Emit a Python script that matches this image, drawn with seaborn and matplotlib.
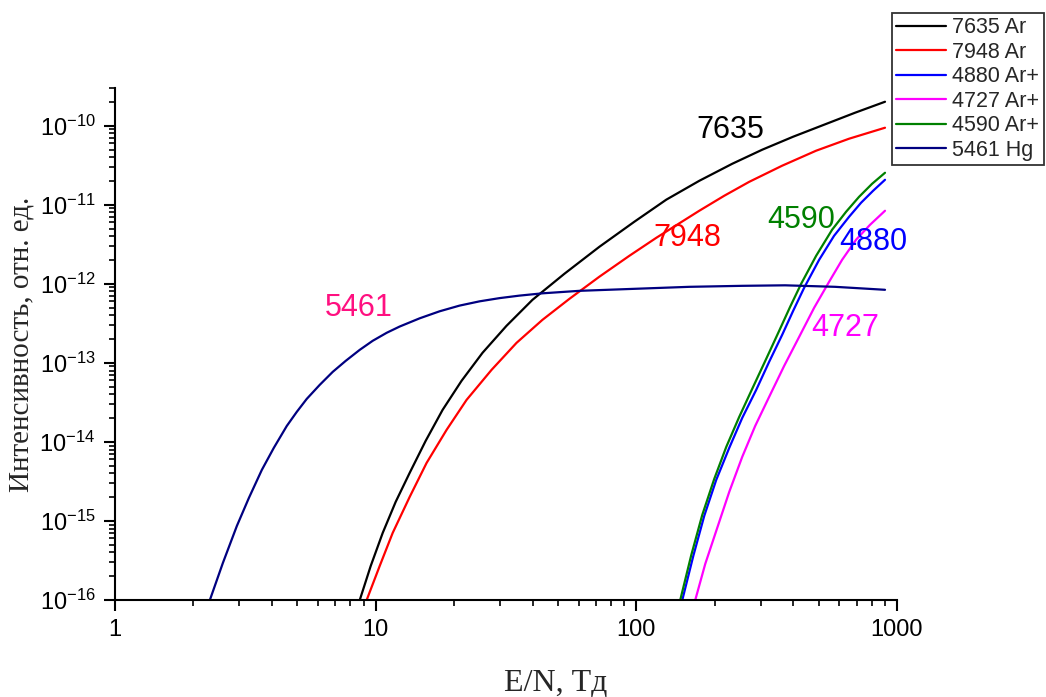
import numpy as np
import pandas as pd
import matplotlib
matplotlib.use("Agg")
import matplotlib.pyplot as plt
import seaborn as sns
from matplotlib.ticker import LogLocator, NullFormatter, FuncFormatter

# Emission intensity vs reduced field E/N (Td) for Ar, Ar+ and Hg lines
en_7635 = [8.69, 9.57, 10.64, 11.93, 13.50, 15.55, 18.06, 21.35, 25.70, 31.76, 39.95,
           52.98, 72.15, 98.2, 130.3, 174.4, 233.3, 304.0, 399.6, 525.3, 690.4, 899.5]
i_7635 = [1.0e-16, 2.69e-16, 7.05e-16, 1.74e-15, 4.05e-15, 1.03e-14, 2.54e-14, 5.92e-14,
          1.34e-13, 2.94e-13, 6.27e-13, 1.34e-12, 2.94e-12, 6.09e-12, 1.16e-11, 2.01e-11,
          3.30e-11, 4.97e-11, 7.26e-11, 1.03e-10, 1.46e-10, 2.01e-10]

en_7948 = [9.237, 10.36, 11.62, 13.50, 15.68, 18.71, 22.32, 27.83, 34.70, 43.63, 55.39,
           72.15, 94.0, 119.3, 174.4, 217.4, 271.0, 362.6, 489.5, 655.0, 899.5]
i_7948 = [1.0e-16, 2.69e-16, 7.05e-16, 2.01e-15, 5.42e-15, 1.42e-14, 3.40e-14, 8.15e-14,
          1.79e-13, 3.50e-13, 6.46e-13, 1.23e-12, 2.26e-12, 3.82e-12, 8.40e-12, 1.30e-11,
          1.95e-11, 3.12e-11, 4.83e-11, 6.85e-11, 9.43e-11]

en_4880 = [150.1, 165.4, 182.2, 202.5, 227.2, 254.8, 288.3, 323.2, 362.6, 399.6, 440.3,
           502.6, 573.6, 655.0, 727.9, 809.2, 899.5]
i_4880 = [1.0e-16, 3.61e-16, 1.16e-15, 3.30e-15, 8.40e-15, 2.01e-14, 4.55e-14, 1.03e-13,
          2.26e-13, 4.55e-13, 8.90e-13, 2.01e-12, 4.05e-12, 7.05e-12, 1.06e-11, 1.50e-11,
          2.07e-11]

en_4727 = [168.3, 183.8, 202.5, 227.2, 254.8, 285.7, 323.2, 369.1, 421.3, 480.9, 548.9,
           615.6, 696.5, 788.1, 899.5]
i_4727 = [1.0e-16, 2.86e-16, 7.47e-16, 2.33e-15, 6.46e-15, 1.59e-14, 3.71e-14, 9.16e-14,
          2.13e-13, 4.97e-13, 1.06e-12, 2.01e-12, 3.61e-12, 5.58e-12, 8.40e-12]

en_4590 = [147.4, 162.5, 179.0, 199.0, 221.3, 248.1, 278.3, 314.8, 353.1, 389.1, 428.8,
           489.5, 563.6, 637.7, 715.2, 802.1, 899.5]
i_4590 = [1.0e-16, 3.71e-16, 1.19e-15, 3.40e-15, 8.64e-15, 2.07e-14, 4.69e-14, 1.12e-13,
          2.54e-13, 5.12e-13, 1.0e-12, 2.26e-12, 4.83e-12, 8.15e-12, 1.26e-11, 1.84e-11,
          2.54e-11]

en_5461 = [2.312, 2.593, 2.934, 3.262, 3.658, 4.066, 4.560, 4.982, 5.440, 6.102, 6.843,
           7.675, 8.686, 9.739, 11.02, 12.36, 14.75, 17.59, 20.98, 25.03, 29.86, 35.62,
           43.63, 60.46, 99.1, 159.7, 254.8, 372.4, 578.7, 899.5]
i_5461 = [1.0e-16, 2.94e-16, 8.64e-16, 1.95e-15, 4.42e-15, 8.40e-15, 1.59e-14, 2.40e-14,
          3.50e-14, 5.27e-14, 7.69e-14, 1.06e-13, 1.46e-13, 1.90e-13, 2.40e-13, 2.88e-13,
          3.66e-13, 4.49e-13, 5.30e-13, 6.00e-13, 6.59e-13, 7.09e-13, 7.58e-13, 8.15e-13,
          8.65e-13, 9.16e-13, 9.43e-13, 9.57e-13, 9.16e-13, 8.40e-13]

series_names = ["7635 Ar", "7948 Ar", "4880 Ar+", "4727 Ar+", "4590 Ar+", "5461 Hg"]
series_en = [en_7635, en_7948, en_4880, en_4727, en_4590, en_5461]
series_i = [i_7635, i_7948, i_4880, i_4727, i_4590, i_5461]
line_colors = ["#000000", "#FF0000", "#0000FF", "#FF00FF", "#008000", "#000080"]

# Curve labels drawn next to the lines
label_text = ["7635", "7948", "4590", "4880", "4727", "5461"]
label_en = [229, 157, 429, 809, 632, 8.6]
label_i = [8.9e-11, 3.8e-12, 6.45e-12, 3.4e-12, 2.77e-13, 4.97e-13]
label_colors = ["#000000", "#FF0000", "#008000", "#0000FF", "#FF00FF", "#FF1080"]

frames = []
for name, xs, ys in zip(series_names, series_en, series_i):
    frames.append(pd.DataFrame({"E/N": xs, "I": ys, "line": name}))
df = pd.concat(frames, ignore_index=True)

sns.set_style("white")
plt.rcParams["font.family"] = ["Liberation Sans", "DejaVu Sans"]
plt.rcParams["mathtext.fontset"] = "custom"
plt.rcParams["mathtext.rm"] = "Liberation Sans"
plt.rcParams["axes.unicode_minus"] = False

fig = plt.figure(figsize=(10.46, 6.97), dpi=100)
ax = fig.add_axes([115 / 1046, 97 / 697, 782 / 1046, 512 / 697])

sns.lineplot(data=df, x="E/N", y="I", hue="line", hue_order=series_names,
             palette=dict(zip(series_names, line_colors)), sort=False,
             estimator=None, linewidth=1.6, ax=ax, legend=True)

ax.set_xscale("log")
ax.set_yscale("log")
ax.set_xlim(1, 1000)
ax.set_ylim(1e-16, 3e-10)

for side in ("top", "right"):
    ax.spines[side].set_visible(False)
for side in ("left", "bottom"):
    ax.spines[side].set_linewidth(1.5)
    ax.spines[side].set_color("black")

ax.xaxis.set_major_locator(LogLocator(base=10, numticks=20))
ax.xaxis.set_minor_locator(LogLocator(base=10, subs=np.arange(2, 10), numticks=100))
ax.xaxis.set_major_formatter(FuncFormatter(lambda v, p: f"{v:g}"))
ax.xaxis.set_minor_formatter(NullFormatter())
ax.yaxis.set_major_locator(LogLocator(base=10, numticks=20))
ax.yaxis.set_minor_locator(LogLocator(base=10, subs=np.arange(2, 10), numticks=100))
ax.yaxis.set_minor_formatter(NullFormatter())

ax.tick_params(which="major", direction="out", length=8, width=1.5, labelsize=17,
               color="black", labelcolor="black", pad=6)
ax.tick_params(which="minor", direction="out", length=4.5, width=1.2, color="black")
ax.tick_params(axis="x", which="both", bottom=True)
ax.tick_params(axis="y", which="both", left=True)

ax.set_xlabel("E/N, Тд", family="Liberation Serif", fontsize=23)
ax.set_ylabel("Интенсивность, отн. ед.", family="Liberation Serif", fontsize=21)
ax.xaxis.set_label_coords(0.564, -0.135)
ax.yaxis.set_label_coords(-0.119, 0.5)
ax.xaxis.label.set_va("top")
ax.yaxis.label.set_va("center")

for txt, x, y, c in zip(label_text, label_en, label_i, label_colors):
    ax.text(x, y, txt, color=c, fontsize=22, ha="center", va="center")

leg_old = ax.get_legend()
handles = leg_old.legend_handles
labels = [t.get_text() for t in leg_old.get_texts()]
leg_old.remove()
for h in handles:
    h.set_linewidth(1.6)
leg = fig.legend(handles, labels, loc="upper left",
                 bbox_to_anchor=(892 / 1046, 1 - 13 / 697),
                 bbox_transform=fig.transFigure, frameon=True, fancybox=False,
                 fontsize=15.5, handlelength=2.3, handletextpad=0.3,
                 borderpad=0.2, labelspacing=0.16, borderaxespad=0)
leg.get_frame().set_edgecolor("black")
leg.get_frame().set_linewidth(1.3)

fig.savefig("out.png", dpi=100, facecolor="white")
